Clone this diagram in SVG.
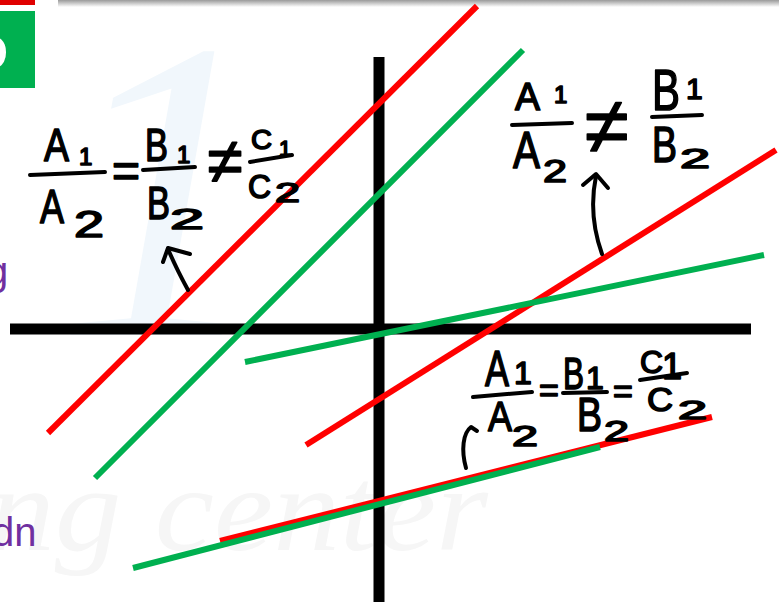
<svg xmlns="http://www.w3.org/2000/svg" width="779" height="605" viewBox="0 0 779 605">
<defs>
<linearGradient id="shadow" x1="0" y1="0" x2="0" y2="1">
<stop offset="0" stop-color="#9a9a9a"/>
<stop offset="1" stop-color="#ffffff"/>
</linearGradient>
<style>
.hw{font-family:"Liberation Sans",Arial,sans-serif;fill:#000;stroke:#000;stroke-width:1.6;stroke-linejoin:round}
.bar{stroke:#000;stroke-width:4;stroke-linecap:round;fill:none}
.arr{stroke:#000;stroke-width:4;stroke-linecap:round;stroke-linejoin:round;fill:none}
.red{stroke:#ff0000;stroke-width:6;stroke-linecap:butt}
.grn{stroke:#00b050;stroke-width:6;stroke-linecap:butt}
.axis{stroke:#000;stroke-width:11}
.pur{font-family:"Liberation Sans",Arial,sans-serif;fill:#7030a0}
</style>
</defs>
<rect width="779" height="605" fill="#ffffff"/>
<g id="background">
<rect x="58" y="0" width="721" height="7" fill="url(#shadow)"/>
<rect x="0" y="0" width="35" height="5" fill="#e00000"/>
<rect x="0" y="11" width="35" height="77" fill="#00b050"/>
<text x="-28" y="70" font-family="Liberation Sans,Arial,sans-serif" font-weight="bold" font-size="50" fill="#ffffff">D</text>
<text x="55" y="335" font-family="Liberation Serif,Times New Roman,serif" font-style="italic" font-size="430" fill="#f1f7fc">1</text>
<text x="-12" y="550" font-family="Liberation Serif,Times New Roman,serif" font-style="italic" font-size="120" fill="#f6f6f6" textLength="500" lengthAdjust="spacingAndGlyphs">ng center</text>
<text class="pur" x="-14" y="285" font-size="40">g</text>
<text class="pur" x="-8" y="546" font-size="40">dn</text>
</g>
<g id="axes">
<line class="axis" x1="10" y1="329" x2="751" y2="329"/>
<line class="axis" x1="379" y1="57" x2="379" y2="602"/>
</g>
<g id="connectors">
<line class="red" x1="48" y1="433" x2="477" y2="6"/>
<line class="grn" x1="95" y1="478" x2="523" y2="50"/>
<line class="red" x1="306" y1="445" x2="776" y2="150"/>
<line class="grn" x1="245" y1="362" x2="764" y2="255"/>
<line class="red" x1="220" y1="541" x2="712" y2="417"/>
<line class="grn" x1="133" y1="568" x2="600" y2="447"/>
<path class="arr" d="M188,290 Q176,268 168,249"/>
<path class="arr" d="M163,262 L168,248 L190,254"/>
<path class="arr" d="M602,254 Q588,215 596,176"/>
<path class="arr" d="M583,185 L596,174 L608,188"/>
<path class="arr" d="M466,468 C461,450 463,433 471,427 L477,431"/>
</g>
<g id="formula-left">
<text class="hw" x="44" y="161" font-size="46" textLength="25" lengthAdjust="spacingAndGlyphs">A</text>
<text class="hw" x="79" y="165" font-size="24">1</text>
<line class="bar" x1="30" y1="175" x2="105" y2="172"/>
<text class="hw" x="40" y="223" font-size="48" textLength="24" lengthAdjust="spacingAndGlyphs">A</text>
<text class="hw" x="74" y="237" font-size="36" textLength="30" lengthAdjust="spacingAndGlyphs">2</text>
<text class="hw" x="126" y="187" font-size="48" text-anchor="middle">=</text>
<text class="hw" x="145" y="161" font-size="46" textLength="23" lengthAdjust="spacingAndGlyphs">B</text>
<text class="hw" x="177" y="163" font-size="24">1</text>
<line class="bar" x1="143" y1="170" x2="195" y2="167"/>
<text class="hw" x="147" y="219" font-size="46" textLength="23" lengthAdjust="spacingAndGlyphs">B</text>
<text class="hw" x="170" y="229" font-size="30" textLength="34" lengthAdjust="spacingAndGlyphs">2</text>
<text class="hw" x="225" y="183" font-size="64" text-anchor="middle">≠</text>
<text class="hw" x="251" y="149" font-size="28" textLength="21" lengthAdjust="spacingAndGlyphs">C</text>
<text class="hw" x="279" y="156" font-size="22">1</text>
<line class="bar" x1="250" y1="162" x2="292" y2="155"/>
<text class="hw" x="248" y="198" font-size="34" textLength="23" lengthAdjust="spacingAndGlyphs">C</text>
<text class="hw" x="275" y="202" font-size="28" textLength="25" lengthAdjust="spacingAndGlyphs">2</text>
</g>
<g id="formula-right">
<text class="hw" x="515" y="110" font-size="38" textLength="25" lengthAdjust="spacingAndGlyphs">A</text>
<text class="hw" x="554" y="103" font-size="24">1</text>
<line class="bar" x1="512" y1="125" x2="572" y2="123"/>
<text class="hw" x="513" y="168" font-size="52" textLength="27" lengthAdjust="spacingAndGlyphs">A</text>
<text class="hw" x="543" y="182" font-size="32" textLength="24" lengthAdjust="spacingAndGlyphs">2</text>
<text class="hw" x="607" y="153" font-size="80" text-anchor="middle">≠</text>
<text class="hw" x="652" y="110" font-size="58" textLength="28" lengthAdjust="spacingAndGlyphs">B</text>
<text class="hw" x="686" y="99" font-size="30">1</text>
<line class="bar" x1="652" y1="117" x2="702" y2="115"/>
<text class="hw" x="652" y="162" font-size="50" textLength="25" lengthAdjust="spacingAndGlyphs">B</text>
<text class="hw" x="680" y="168" font-size="28" textLength="30" lengthAdjust="spacingAndGlyphs">2</text>
</g>
<g id="formula-bottom">
<text class="hw" x="485" y="386" font-size="50" textLength="24" lengthAdjust="spacingAndGlyphs">A</text>
<text class="hw" x="514" y="384" font-size="32">1</text>
<line class="bar" x1="473" y1="397" x2="532" y2="392"/>
<text class="hw" x="488" y="431" font-size="42" textLength="24" lengthAdjust="spacingAndGlyphs">A</text>
<text class="hw" x="512" y="446" font-size="30" textLength="26" lengthAdjust="spacingAndGlyphs">2</text>
<text class="hw" x="549" y="402" font-size="34" text-anchor="middle">=</text>
<text class="hw" x="563" y="389" font-size="44" textLength="21" lengthAdjust="spacingAndGlyphs">B</text>
<text class="hw" x="586" y="389" font-size="32">1</text>
<line class="bar" x1="563" y1="393" x2="607" y2="392"/>
<text class="hw" x="577" y="431" font-size="48" textLength="25" lengthAdjust="spacingAndGlyphs">B</text>
<text class="hw" x="604" y="441" font-size="30" textLength="25" lengthAdjust="spacingAndGlyphs">2</text>
<text class="hw" x="623" y="403" font-size="34" text-anchor="middle">=</text>
<text class="hw" x="640" y="373" font-size="32" textLength="23" lengthAdjust="spacingAndGlyphs">C</text>
<text class="hw" x="662" y="379" font-size="36">1</text>
<line class="bar" x1="640" y1="380" x2="687" y2="373"/>
<text class="hw" x="647" y="411" font-size="34" textLength="26" lengthAdjust="spacingAndGlyphs">C</text>
<text class="hw" x="678" y="419" font-size="26" textLength="29" lengthAdjust="spacingAndGlyphs">2</text>
</g>
</svg>
